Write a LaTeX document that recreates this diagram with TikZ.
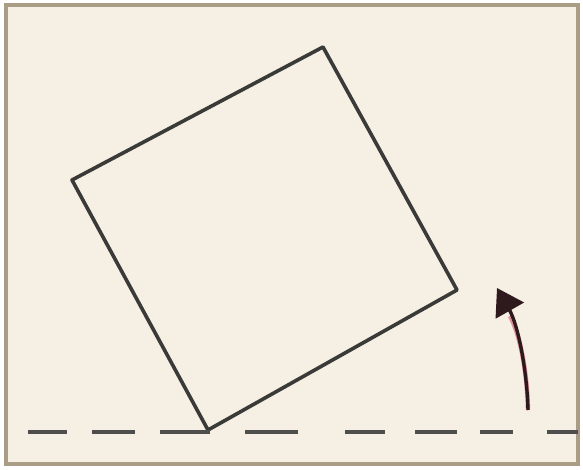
\documentclass[tikz,border=0pt]{standalone}
\usetikzlibrary{arrows.meta}
\definecolor{paper}{HTML}{F6EFE3}
\definecolor{frame}{HTML}{A99D85}
\definecolor{pencil}{HTML}{3A3A38}
\definecolor{marker}{HTML}{2E1A1C}
\definecolor{markred}{HTML}{C4204A}
\tikzset{
  sq/.style={draw=pencil, line width=3.6pt, line join=round, line cap=round},
  dashline/.style={draw=pencil!90, line width=4pt},
  arr/.style={draw=marker, line width=3.4pt, -{Triangle[length=26pt,width=32pt,fill=marker]}},
}
\begin{document}
\begin{tikzpicture}[x=1pt,y=-1pt]
\useasboundingbox (0,0) rectangle (583,469);
\fill[white] (0,0) rectangle (583,469);
\fill[paper] (6,5) rectangle (578,464);
\draw[frame, line width=3.5pt] (6,5) rectangle (578,464);
% square
\coordinate (T) at (323,47);
\coordinate (L) at (72,180);
\coordinate (B) at (208,430);
\coordinate (R) at (457,290);
\draw[sq] (T) -- (L) -- (B) -- (R) -- cycle;
% dashed ground line
\foreach \a/\b in {28/67,92/135,160/210,245/298,345/385,415/457,480/513,547/578}{
  \draw[dashline] (\a,432) -- (\b,432);
}
% rotation arrow
\coordinate (A0) at (528,410);
\coordinate (A1) at (497,288);
\draw[markred, line width=4.4pt, opacity=0.45] (A0) .. controls (527,370) and (520,335) .. (510,316);
\draw[arr] (A0) .. controls (527,370) and (518,325) .. (A1);
\end{tikzpicture}
\end{document}
